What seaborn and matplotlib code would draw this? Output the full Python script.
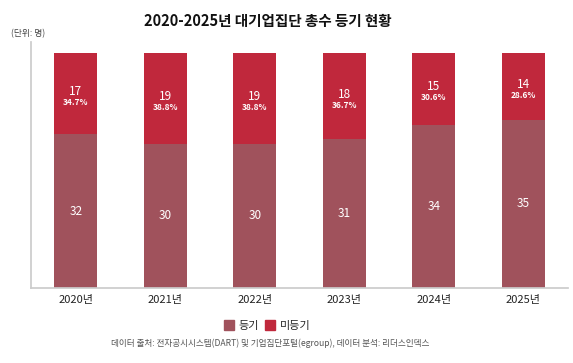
import matplotlib
matplotlib.use("Agg")
import matplotlib.pyplot as plt
import seaborn as sns
import pandas as pd
from matplotlib.patches import Patch

years = ["2020년", "2021년", "2022년", "2023년", "2024년", "2025년"]
registered = [32, 30, 30, 31, 34, 35]
unregistered = [17, 19, 19, 18, 15, 14]
unreg_pct = ["34.7%", "38.8%", "38.8%", "36.7%", "30.6%", "28.6%"]

sns.set_theme(style="white")
plt.rcParams['font.family'] = ['Noto Sans CJK KR', 'DejaVu Sans']

c_reg = "#A0525C"
c_unreg = "#C0283C"

df = pd.DataFrame({"year": years, "reg": registered, "unreg": unregistered})
df["total"] = df["reg"] + df["unreg"]

fig = plt.figure(figsize=(5.73, 3.63), dpi=100)
ax = fig.add_axes([0.0545, 0.2066, 0.9367, 0.6785])

sns.barplot(data=df, x="year", y="total", color=c_unreg, width=0.48, ax=ax,
            saturation=1, linewidth=0, edgecolor="none")
sns.barplot(data=df, x="year", y="reg", color=c_reg, width=0.48, ax=ax,
            saturation=1, linewidth=0, edgecolor="none")

for i, (r, u, p) in enumerate(zip(registered, unregistered, unreg_pct)):
    ax.text(i, r / 2, str(r), ha="center", va="center", color="white", fontsize=8.5)
    mid = r + u / 2
    ax.text(i, mid + 0.4, str(u), ha="center", va="center", color="white", fontsize=8.5)
    ax.text(i, mid - 1.9, p, ha="center", va="center", color="white", fontsize=6, fontweight="bold")

ax.set_ylim(0, 51.3)
ax.set_xlim(-0.5, 5.5)
ax.set_yticks([])
ax.set_xlabel("")
ax.set_ylabel("")
for s in ["top", "right"]:
    ax.spines[s].set_visible(False)
ax.spines["left"].set_color("#cccccc")
ax.spines["bottom"].set_color("#cccccc")
ax.tick_params(axis="x", length=0, labelsize=8, pad=5, colors="#222222")

fig.text(0.467, 0.941, "2020-2025년 대기업집단 총수 등기 현황", ha="center", va="center",
         fontsize=10.5, fontweight="bold", color="#111111")
fig.text(0.02, 0.908, "(단위: 명)", ha="left", va="center", fontsize=6.3, color="#444444")

handles = [Patch(color=c_reg, label="등기"), Patch(color=c_unreg, label="미등기")]
fig.legend(handles=handles, loc="center", bbox_to_anchor=(0.466, 0.103), ncol=2, frameon=False,
           fontsize=8, handlelength=0.9, handleheight=0.9, handletextpad=0.4, columnspacing=0.6)
fig.text(0.471, 0.055, "데이터 출처: 전자공시시스템(DART) 및 기업집단포털(egroup), 데이터 분석: 리더스인덱스",
         ha="center", va="center", fontsize=6.2, color="#555555")

fig.savefig("out.png", dpi=100)
